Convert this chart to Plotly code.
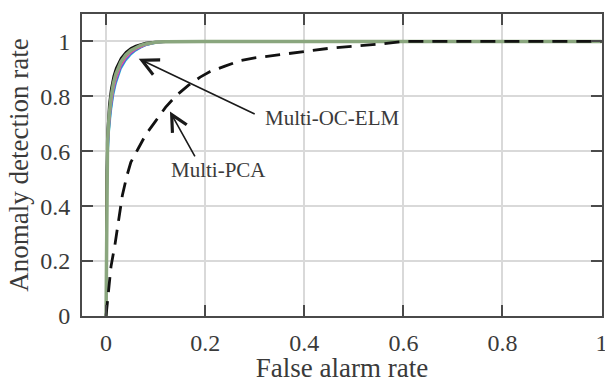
import plotly.graph_objects as go

# ---------------- data ----------------
far_elm = [0, 0.001, 0.003, 0.006, 0.01, 0.015, 0.02, 0.03, 0.04, 0.05, 0.06,
           0.07, 0.08, 0.1, 0.12, 0.15, 0.2, 1.0]

tpr_cyan    = [0, 0.35, 0.54, 0.66, 0.74, 0.804, 0.845, 0.899, 0.93, 0.951, 0.966, 0.977, 0.985, 0.994, 0.998, 1.0, 1.0, 1.0]
tpr_blue    = [0, 0.37, 0.555, 0.672, 0.75, 0.812, 0.851, 0.904, 0.934, 0.954, 0.968, 0.978, 0.986, 0.994, 0.998, 1.0, 1.0, 1.0]
tpr_magenta = [0, 0.39, 0.57, 0.685, 0.76, 0.82, 0.858, 0.909, 0.938, 0.957, 0.97, 0.98, 0.987, 0.995, 0.998, 1.0, 1.0, 1.0]
tpr_pink    = [0, 0.41, 0.59, 0.70, 0.772, 0.83, 0.867, 0.915, 0.943, 0.961, 0.973, 0.982, 0.988, 0.995, 0.999, 1.0, 1.0, 1.0]
tpr_red     = [0, 0.43, 0.60, 0.705, 0.778, 0.835, 0.871, 0.918, 0.945, 0.962, 0.974, 0.983, 0.989, 0.996, 0.999, 1.0, 1.0, 1.0]
tpr_yellow  = [0, 0.50, 0.66, 0.75, 0.812, 0.862, 0.893, 0.933, 0.957, 0.972, 0.981, 0.988, 0.993, 0.998, 1.0, 1.0, 1.0, 1.0]
tpr_green   = [0, 0.46, 0.63, 0.725, 0.795, 0.848, 0.882, 0.926, 0.951, 0.967, 0.978, 0.986, 0.991, 0.997, 0.999, 1.0, 1.0, 1.0]
tpr_black   = [0, 0.53, 0.68, 0.77, 0.828, 0.874, 0.903, 0.94, 0.962, 0.976, 0.985, 0.991, 0.995, 0.999, 1.0, 1.0, 1.0, 1.0]

far_pca = [0, 0.003, 0.006, 0.01, 0.018, 0.025, 0.033, 0.042, 0.05, 0.065, 0.08,
           0.1, 0.12, 0.14, 0.166, 0.19, 0.21, 0.24, 0.27, 0.3, 0.34, 0.4,
           0.45, 0.5, 0.55, 0.6, 0.7, 0.8, 0.9, 1.0]
tpr_pca = [0, 0.06, 0.12, 0.18, 0.26, 0.35, 0.44, 0.51, 0.56, 0.61, 0.66,
           0.71, 0.76, 0.80, 0.84, 0.87, 0.89, 0.91, 0.93, 0.94, 0.95, 0.965,
           0.975, 0.983, 0.99, 1.0, 1.0, 1.0, 1.0, 1.0]

x_ticks = [0, 0.2, 0.4, 0.6, 0.8, 1]
x_tick_labels = ["0", "0.2", "0.4", "0.6", "0.8", "1"]
y_ticks = [0, 0.2, 0.4, 0.6, 0.8, 1]
y_tick_labels = ["0", "0.2", "0.4", "0.6", "0.8", "1"]

x_title = "False alarm rate"
y_title = "Anomaly detection rate"
label_elm = "Multi-OC-ELM"
label_pca = "Multi-PCA"

# ---------------- figure ----------------
FONT = "'Liberation Serif'"
TXT = "#3a3a3a"
AX = "#4a4a4a"

fig = go.Figure()

thin = [
    (tpr_cyan, "#35c4d0"),
    (tpr_blue, "#3a6fd8"),
    (tpr_magenta, "#c23ec4"),
    (tpr_pink, "#ee7fb5"),
    (tpr_red, "#e0504a"),
    (tpr_yellow, "#e8c21c"),
]
for tpr, col in thin:
    fig.add_trace(go.Scatter(x=far_elm, y=tpr, mode="lines",
                             line=dict(color=col, width=1.5), showlegend=False,
                             hoverinfo="skip"))
fig.add_trace(go.Scatter(x=far_elm, y=tpr_black, mode="lines",
                         line=dict(color="#111111", width=2), showlegend=False,
                         hoverinfo="skip"))
fig.add_trace(go.Scatter(x=far_elm, y=tpr_green, mode="lines",
                         line=dict(color="#8aa67e", width=3.5), showlegend=False,
                         hoverinfo="skip"))
fig.add_trace(go.Scatter(x=far_pca, y=tpr_pca, mode="lines",
                         line=dict(color="#111111", width=2.8, dash="15px,9px"),
                         showlegend=False, hoverinfo="skip"))

axis_common = dict(
    showline=True, linecolor=AX, linewidth=2, mirror="allticks",
    ticks="inside", ticklen=11, tickwidth=2, tickcolor=AX,
    showgrid=True, gridcolor="#d9d9d9", gridwidth=1.5,
    zeroline=False, automargin=False, ticklabeloverflow="allow",
    tickfont=dict(family=FONT, size=24, color=TXT),
)

fig.update_xaxes(range=[-0.0485, 1.0008], tickvals=x_ticks, ticktext=x_tick_labels,
                 title=dict(text=x_title, font=dict(family=FONT, size=27, color=TXT),
                            standoff=3),
                 ticklabelstandoff=4, **axis_common)
fig.update_yaxes(range=[0, 1.1], tickvals=y_ticks, ticktext=y_tick_labels,
                 title=dict(text=y_title, font=dict(family=FONT, size=27, color=TXT),
                            standoff=4),
                 ticklabelstandoff=5, **axis_common)

# annotations: arrows
fig.add_annotation(x=0.066, y=0.937, ax=0.303, ay=0.733, xref="x", yref="y",
                   axref="x", ayref="y", text="", showarrow=True,
                   arrowhead=5, arrowsize=2, arrowwidth=1.6, arrowcolor="#1a1a1a")
fig.add_annotation(x=0.129, y=0.745, ax=0.181, ay=0.576, xref="x", yref="y",
                   axref="x", ayref="y", text="", showarrow=True,
                   arrowhead=5, arrowsize=2, arrowwidth=1.6, arrowcolor="#1a1a1a")
# annotations: labels
fig.add_annotation(x=0.455, y=0.722, xref="x", yref="y", text=label_elm,
                   showarrow=False, font=dict(family=FONT, size=21, color=TXT))
fig.add_annotation(x=0.227, y=0.533, xref="x", yref="y", text=label_pca,
                   showarrow=False, font=dict(family=FONT, size=21, color=TXT))

fig.update_layout(
    width=605, height=383,
    margin=dict(l=82, r=3, t=14, b=67),
    paper_bgcolor="white", plot_bgcolor="white",
    showlegend=False,
)

fig.write_html("out.html", config={"displayModeBar": False},
               post_script="document.body.style.margin='0';document.body.style.overflow='hidden';")
